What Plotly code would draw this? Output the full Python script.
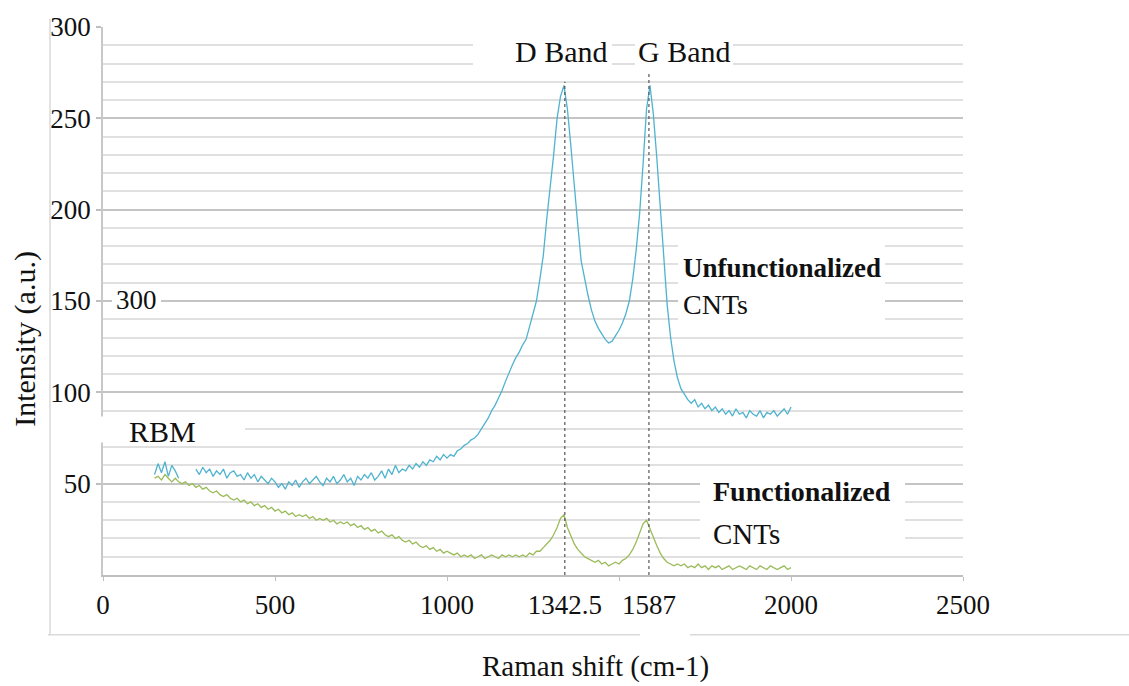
import plotly.graph_objects as go

# ---------------- data ----------------
raman_shift = list(range(150, 2010, 10))  # cm-1 sampling grid

unfunctionalized = [
    55, 61, 56, 62, 54, 60, 57, 53, None, None,          # 150-240
    None, None, 58, 55, 59, 56, 58, 54, 57, 55,          # 250-340
    58, 53, 56, 57, 54, 55, 52, 56, 53, 55,              # 350-440
    51, 54, 52, 50, 53, 51, 48, 50, 47, 51,              # 450-540
    49, 52, 48, 51, 53, 50, 52, 54, 51, 49,              # 550-640
    53, 51, 54, 50, 52, 55, 51, 53, 49, 54,              # 650-740
    52, 55, 53, 56, 52, 54, 57, 53, 58, 55,              # 750-840
    60, 56, 58, 57, 60, 58, 61, 59, 62, 60,              # 850-940
    63, 62, 65, 63, 66, 64, 66, 65, 68, 69,              # 950-1040
    71, 72, 74, 75, 77, 80, 83, 86, 90, 93,              # 1050-1140
    97, 101, 106, 111, 115, 119, 122, 126, 129, 136,     # 1150-1240
    143, 150, 162, 175, 195, 212, 230, 250, 262, 268,    # 1250-1340
    255, 235, 212, 192, 172, 162, 153, 145, 139, 135,    # 1350-1440
    132, 129, 127, 128, 131, 134, 138, 143, 150, 162,    # 1450-1540
    178, 198, 225, 255, 268, 252, 228, 200, 172, 148,    # 1550-1640
    130, 117, 108, 102, 99, 96, 94, 96, 92, 94,          # 1650-1740
    91, 93, 90, 92, 89, 91, 88, 90, 87, 91,              # 1750-1840
    88, 89, 86, 90, 88, 87, 90, 86, 89, 88,              # 1850-1940
    90, 87, 89, 91, 88, 92,                              # 1950-2000
]

functionalized = [
    53, 54, 52, 55, 53, 51, 53, 51, 50, 51,              # 150-240
    49, 50, 48, 49, 47, 48, 46, 45, 46, 44,              # 250-340
    43, 44, 42, 41, 42, 40, 41, 39, 40, 38,              # 350-440
    39, 37, 38, 36, 37, 35, 36, 34, 35, 33,              # 450-540
    34, 32, 33, 32, 33, 31, 32, 30, 31, 30,              # 550-640
    31, 29, 30, 28, 29, 28, 29, 27, 28, 26,              # 650-740
    27, 25, 26, 24, 25, 23, 24, 22, 21, 22,              # 750-840
    20, 21, 19, 18, 19, 17, 18, 16, 15, 16,              # 850-940
    14, 15, 13, 14, 12, 13, 12, 11, 12, 10,              # 950-1040
    11, 10, 11, 9, 10, 11, 9, 10, 11, 10,                # 1050-1140
    9, 11, 10, 11, 10, 11, 10, 11, 10, 12,               # 1150-1240
    11, 13, 13, 15, 17, 19, 22, 26, 31, 33,              # 1250-1340
    26, 21, 17, 14, 12, 10, 9, 8, 7, 8,                  # 1350-1440
    6, 7, 5, 6, 7, 6, 8, 9, 11, 14,                      # 1450-1540
    18, 23, 28, 30, 25, 20, 16, 12, 9, 7,                # 1550-1640
    6, 5, 6, 5, 6, 4, 5, 4, 6, 4,                        # 1650-1740
    5, 3, 5, 4, 5, 3, 4, 5, 3, 4,                        # 1750-1840
    5, 4, 3, 5, 4, 3, 5, 4, 3, 5,                        # 1850-1940
    4, 3, 4, 5, 3, 4,                                    # 1950-2000
]

band_positions = [1342.5, 1587]
band_marker_tops = [270, 276]

x_tick_vals = [0, 500, 1000, 1342.5, 1587, 2000, 2500]
x_tick_text = ["0", "500", "1000", "1342.5", "1587", "2000", "2500"]
y_tick_vals = [50, 100, 150, 200, 250, 300]
y_tick_text = ["50", "100", "150", "200", "250", "300"]

assert len(unfunctionalized) == len(raman_shift) == len(functionalized)

# ---------------- figure ----------------
FONT = "Liberation Serif"
W, H = 1129, 686
L, R, T, B = 103, 166, 25, 111
PW, PH = W - L - R, H - T - B


def px(xp):
    return (xp - L) / PW


def py(yp):
    return (H - B - yp) / PH


fig = go.Figure()

fig.add_trace(go.Scatter(
    x=raman_shift, y=unfunctionalized, mode="lines",
    line=dict(color="#4fb3cf", width=1.3), connectgaps=False,
    name="Unfunctionalized CNTs", showlegend=False))
fig.add_trace(go.Scatter(
    x=raman_shift, y=functionalized, mode="lines",
    line=dict(color="#9bbb59", width=1.3),
    name="Functionalized CNTs", showlegend=False))

for bx, btop in zip(band_positions, band_marker_tops):
    fig.add_trace(go.Scatter(
        x=[bx, bx], y=[0, btop], mode="lines",
        line=dict(color="#555555", width=1.2, dash="dot"),
        showlegend=False, hoverinfo="skip"))

# white boxes behind the labels (cover gridlines like the original)
boxes = [
    (473, 33, 612, 71),    # D Band
    (635, 33, 733, 71),    # G Band
    (678, 237, 885, 327),  # Unfunctionalized CNTs
    (700, 475, 905, 549),  # Functionalized CNTs
    (100, 416, 245, 442),  # RBM
    (112, 288, 161, 312),  # stray "300"
]
shapes = []
for x0, y0, x1, y1 in boxes:
    shapes.append(dict(type="rect", xref="paper", yref="paper",
                       x0=px(x0), x1=px(x1), y0=py(y1), y1=py(y0),
                       fillcolor="white", line=dict(width=0), layer="above"))
# outer chart-area frame lines
frame_col = "#d9d9d9"
shapes.append(dict(type="line", xref="paper", yref="paper",
                   x0=px(50), x1=px(50), y0=py(17), y1=py(635),
                   line=dict(color=frame_col, width=1.5)))
shapes.append(dict(type="line", xref="paper", yref="paper",
                   x0=px(48), x1=px(640), y0=py(635), y1=py(635),
                   line=dict(color=frame_col, width=1.5)))
shapes.append(dict(type="line", xref="paper", yref="paper",
                   x0=px(690), x1=px(1129), y0=py(635), y1=py(635),
                   line=dict(color=frame_col, width=1.5)))

ann = []


def text(t, xc, yc, size, bold=False, xanchor="center", angle=0):
    ann.append(dict(text=f"<b>{t}</b>" if bold else t,
                    xref="paper", yref="paper", x=px(xc), y=py(yc),
                    xanchor=xanchor, yanchor="middle", showarrow=False,
                    textangle=angle,
                    font=dict(family=FONT, size=size, color="#111111")))


text("D Band", 561, 50, 30)
text("G Band", 684, 50, 30)
text("Unfunctionalized", 681, 267, 27, bold=True, xanchor="left")
text("CNTs", 681, 304, 28, bold=False, xanchor="left")
text("Functionalized", 711, 491, 28, bold=True, xanchor="left")
text("CNTs", 711, 534, 29, bold=False, xanchor="left")
text("RBM", 162, 431, 30)
text("300", 136, 299, 27)
text("Raman shift (cm-1)", 595, 667, 29)
text("Intensity (a.u.)", 25, 338, 30, angle=-90)

fig.update_layout(
    width=W, height=H, autosize=False,
    margin=dict(l=L, r=R, t=T, b=B, pad=0),
    paper_bgcolor="white", plot_bgcolor="white",
    showlegend=False,
    shapes=shapes, annotations=ann,
    font=dict(family=FONT, color="#111111"),
    xaxis=dict(
        range=[0, 2500], tickmode="array",
        tickvals=x_tick_vals, ticktext=x_tick_text,
        ticks="", showgrid=False, zeroline=False,
        showline=True, linecolor="#bfbfbf", linewidth=1.5,
        tickfont=dict(family=FONT, size=27, color="#111111"),
        ticklabelstandoff=5,
        minor=dict(tickmode="linear", tick0=0, dtick=500, ticks="outside",
                   ticklen=4, tickcolor="#bfbfbf", showgrid=False),
    ),
    yaxis=dict(
        range=[0, 300], tickmode="array",
        tickvals=y_tick_vals, ticktext=y_tick_text,
        ticks="outside", ticklen=5, tickcolor="#bfbfbf", tickwidth=1.5,
        showgrid=True, gridcolor="#c4c4c4", gridwidth=1.5,
        zeroline=False, showline=True, linecolor="#c8c8c8", linewidth=1.5,
        tickfont=dict(family=FONT, size=27, color="#111111"),
        ticklabelstandoff=0,
        minor=dict(tickmode="linear", tick0=0, dtick=10, showgrid=True,
                   gridcolor="#e0e0e0", gridwidth=1.5, ticks=""),
    ),
)

fig.write_html("out.html")
